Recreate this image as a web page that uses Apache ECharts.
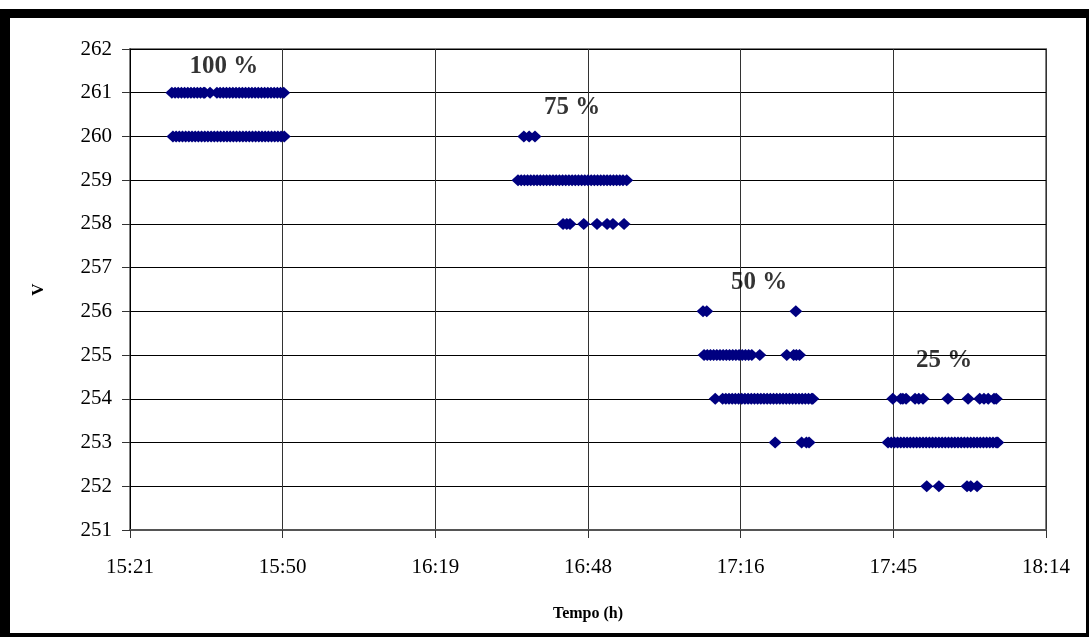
<!DOCTYPE html>
<html>
<head>
<meta charset="utf-8">
<style>
  html, body { margin: 0; padding: 0; background: #ffffff; }
  #chart { width: 1089px; height: 637px; }
</style>
<script src="https://cdn.jsdelivr.net/npm/echarts@6/dist/echarts.min.js"></script>
</head>
<body>
<div id="chart"></div>
<script>
// Time in minutes after midnight; voltage in volts.
// Each load step: [voltage level, [sample times at that level]]
const load100 = [
  [261, [929.5, 930.1, 930.7, 931.3, 931.9, 932.5, 933.1, 933.7, 934.3, 934.9, 935.5, 935.7,
         936.7,
         938.0, 938.6, 939.2, 939.8, 940.4, 941.0, 941.6, 942.2, 942.8, 943.4, 944.0, 944.6,
         945.2, 945.8, 946.4, 947.0, 947.6, 948.2, 948.8, 949.4, 950.0, 950.6]],
  [260, [929.7, 930.3, 930.9, 931.5, 932.1, 932.7, 933.3, 933.9, 934.5, 935.1, 935.7, 936.3,
         936.9, 937.5, 938.1, 938.7, 939.3, 939.9, 940.5, 941.1, 941.7, 942.3, 942.9, 943.5,
         944.1, 944.7, 945.3, 945.9, 946.5, 947.1, 947.7, 948.3, 948.9, 949.5, 950.1, 950.7]]
];

const load75 = [
  [260, [995.9, 996.9, 998.0]],
  [259, [994.8, 995.4, 996.0, 996.6, 997.2, 997.8, 998.4, 999.0, 999.6, 1000.2, 1000.8,
         1001.4, 1002.0, 1002.6, 1003.2, 1003.8, 1004.4, 1005.0, 1005.6, 1006.2, 1006.8,
         1007.4, 1008.0, 1008.6, 1009.2, 1009.8, 1010.4, 1011.0, 1011.6, 1012.2, 1012.8,
         1013.4, 1014.0, 1014.6, 1015.3]],
  [258, [1003.3, 1004.0, 1004.6, 1007.2, 1009.7, 1011.6, 1012.7, 1014.8]]
];

const load50 = [
  [256, [1029.7, 1030.4, 1047.2]],
  [255, [1029.9, 1030.5, 1031.1, 1031.7, 1032.3, 1032.9, 1033.5, 1034.1, 1034.7, 1035.3,
         1035.9, 1036.5, 1037.1, 1037.7, 1038.3, 1038.9,
         1040.4,
         1045.5, 1046.8, 1047.3, 1047.9]],
  [254, [1032.0,
         1033.4, 1034.0, 1034.6, 1035.2, 1035.8, 1036.4, 1037.0, 1037.6, 1038.2, 1038.8,
         1039.4, 1040.0, 1040.6, 1041.2, 1041.8, 1042.4, 1043.0, 1043.6, 1044.2, 1044.8,
         1045.4, 1046.0, 1046.6, 1047.2, 1047.8, 1048.4, 1049.0, 1049.6, 1050.2, 1050.4]],
  [253, [1043.3, 1048.3, 1049.2, 1049.7]]
];

const load25 = [
  [254, [1065.5, 1067.0, 1067.4, 1068.0, 1069.7, 1070.4, 1071.2, 1075.9, 1079.7, 1081.9,
         1082.7, 1083.5, 1084.6, 1085.0]],
  [253, [1064.6, 1065.2, 1065.8, 1066.4, 1067.0, 1067.6, 1068.2, 1068.8, 1069.4, 1070.0,
         1070.6, 1071.2, 1071.8, 1072.4, 1073.0, 1073.6, 1074.2, 1074.8, 1075.4, 1076.0,
         1076.6, 1077.2, 1077.8, 1078.4, 1079.0, 1079.6, 1080.2, 1080.8, 1081.4, 1082.0,
         1082.6, 1083.2, 1083.8, 1084.4, 1085.0, 1085.3]],
  [252, [1071.9, 1074.2, 1079.5, 1080.2, 1081.4]]
];

// Load step captions, anchored in data space [minutes, volts]
const stepNames = ['100 %', '75 %', '50 %', '25 %'];
const stepAnchors = [[939.3, 261.6], [1005.0, 260.65], [1040.3, 256.67], [1075.2, 254.87]];

const xTickLabels = ['15:21', '15:50', '16:19', '16:48', '17:16', '17:45', '18:14'];
const xMin = 921.6, xMax = 1094.4, xStep = 28.8;

const serif = '"Liberation Serif", "DejaVu Serif", serif';

function toPoints(groups) {
  const out = [];
  groups.forEach(function (g) {
    g[1].forEach(function (t) { out.push([t, g[0]]); });
  });
  return out;
}

const points = [].concat(toPoints(load100), toPoints(load75), toPoints(load50), toPoints(load25));

const chart = echarts.init(document.getElementById('chart'), null, { renderer: 'canvas' });

chart.setOption({
  backgroundColor: '#ffffff',
  animation: false,
  grid: {
    left: 130, right: 43, top: 49, bottom: 107,
    show: true, borderColor: '#808080', borderWidth: 2, backgroundColor: 'transparent'
  },
  xAxis: {
    type: 'value',
    min: xMin, max: xMax, interval: xStep,
    name: 'Tempo (h)',
    nameLocation: 'middle',
    nameGap: 76,
    nameTextStyle: { fontFamily: serif, fontWeight: 'bold', fontSize: 16, color: '#000' },
    axisLine: { show: true, lineStyle: { color: '#555555', width: 2 } },
    axisTick: { show: true, length: 8, lineStyle: { color: '#333333', width: 1 } },
    axisLabel: {
      margin: 27,
      fontFamily: serif, fontSize: 21, color: '#000',
      formatter: function (v) {
        const i = Math.round((v - xMin) / xStep);
        return xTickLabels[i] !== undefined ? xTickLabels[i] : '';
      }
    },
    splitLine: { show: true, lineStyle: { color: '#333333', width: 1 } }
  },
  yAxis: {
    type: 'value',
    min: 251, max: 262, interval: 1,
    name: 'V',
    nameLocation: 'middle',
    nameGap: 83,
    nameTextStyle: { fontFamily: serif, fontWeight: 'bold', fontSize: 17, color: '#000' },
    axisLine: { show: true, lineStyle: { color: '#000000', width: 1 } },
    axisTick: { show: true, length: 8, lineStyle: { color: '#333333', width: 1 } },
    axisLabel: { margin: 18, fontFamily: serif, fontSize: 21, color: '#000' },
    splitLine: { show: true, lineStyle: { color: '#000000', width: 1 } }
  },
  series: [
    {
      type: 'scatter',
      data: points,
      symbol: 'diamond',
      symbolSize: [13, 12],
      itemStyle: { color: '#000080', opacity: 1 },
      z: 3
    },
    {
      type: 'scatter',
      data: stepAnchors.map(function (p, i) { return { value: p, name: stepNames[i] }; }),
      symbolSize: 0,
      silent: true,
      itemStyle: { color: '#000000' },
      label: {
        show: true,
        position: 'inside',
        formatter: '{b}',
        fontFamily: serif, fontWeight: 'bold', fontSize: 25, color: '#000000',
        textBorderWidth: 0, textShadowBlur: 0
      },
      z: 4
    }
  ],
  graphic: [
    // page frame
    { type: 'rect', shape: { x: 0, y: 9, width: 1089, height: 9 }, style: { fill: '#000' }, silent: true },
    { type: 'rect', shape: { x: 0, y: 9, width: 10, height: 628 }, style: { fill: '#000' }, silent: true },
    { type: 'rect', shape: { x: 1086, y: 9, width: 3, height: 628 }, style: { fill: '#000' }, silent: true },
    { type: 'rect', shape: { x: 0, y: 633, width: 1089, height: 4 }, style: { fill: '#000' }, silent: true }
  ]
});
</script>
</body>
</html>
